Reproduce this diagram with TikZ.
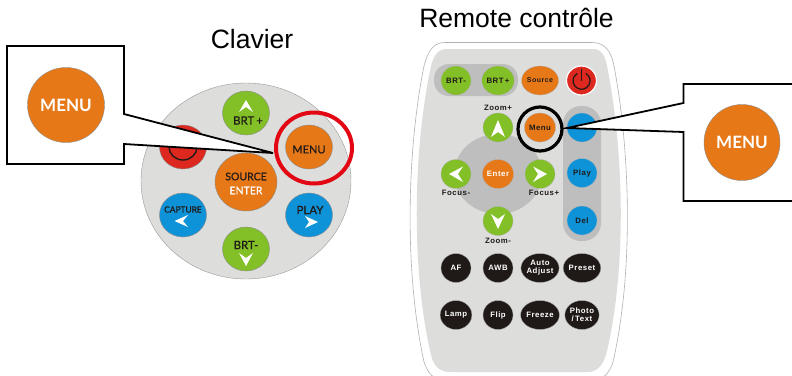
\documentclass[tikz,border=0pt]{standalone}
\usepackage{fontspec}
\setmainfont{Liberation Sans}
\newfontfamily\keyfont{Lato}[FakeBold=0.5]
\newfontfamily\bigkeyfont{Lato}
\newfontfamily\remfont{Liberation Sans}[LetterSpace=7]
\usetikzlibrary{shapes.geometric}
\definecolor{korange}{HTML}{E67817}
\definecolor{kgreen}{HTML}{83BF26}
\definecolor{kblue}{HTML}{0E93D9}
\definecolor{kred}{HTML}{DC281E}
\definecolor{kring}{HTML}{E30613}
\definecolor{kgray}{HTML}{DDDDDC}
\definecolor{kmid}{HTML}{BEBEBE}
\definecolor{kblack}{HTML}{1F1A17}
\tikzset{x=1pt,y=-1pt,
 title/.style={font=\fontsize{26.5}{30}\selectfont,inner sep=0},
 kb/.style={ellipse,draw=black!45,line width=.4pt,minimum width=47pt,minimum height=44pt,inner sep=0},
 rb/.style={ellipse,draw=white!70!black,line width=.3pt,minimum width=30pt,minimum height=29pt,inner sep=0,align=center,font=\remfont\bfseries\fontsize{7.8}{8.2}\selectfont,text=kblack},
 small/.style={font=\remfont\bfseries\fontsize{7.8}{9}\selectfont,inner sep=0,text=kblack},
 kt/.style={font=\keyfont\fontsize{10.5}{12}\selectfont,inner sep=0,text=kblack},
 wt/.style={kt,text=white},
 bigb/.style={ellipse,fill=korange,draw=black!45,line width=.4pt,inner sep=0,text=white,font=\bigkeyfont\bfseries\fontsize{17}{20}\selectfont},
 call/.style={draw=black,fill=white,line width=1.8pt,line join=miter}
}
\begin{document}
\begin{tikzpicture}
\useasboundingbox (0,0) rectangle (792,375);
\node[title] (tclav) at (252,39) {Clavier};
\node[title] (trem) at (516.500,18) {Remote contrôle};
% keyboard
\node[ellipse,draw=black!40,fill=kgray,line width=.4pt,minimum width=210pt,minimum height=196pt,inner sep=0] (pad) at (246,181) {};
\node[kb,fill=kgreen] (bp) at (246,113) {};
\node[kb,fill=korange] (kmenu) at (309,147) {};
\node[kb,fill=kred] (pw) at (183,147) {};
\draw[kblack,line width=1.4pt] (183,147) ellipse (14 and 13);
\node[kb,fill=korange,minimum width=62pt,minimum height=58pt] (src) at (246,182) {};
\node[kb,fill=kblue] (cap) at (183,215) {};
\node[kb,fill=kblue] (play) at (309,215) {};
\node[kb,fill=kgreen] (bm) at (246,249) {};
\node[kt,font=\keyfont\fontsize{11.5}{12}\selectfont] at (248,120.500) {BRT\,+};
\node[kt,font=\keyfont\fontsize{11}{12}\selectfont] at (309,149.500) {MENU};
\node[kt] at (246,176.500) {SOURCE};
\node[wt] at (246,190.500) {ENTER};
\node[kt,font=\keyfont\fontsize{8.4}{9}\selectfont] at (183,209.500) {CAPTURE};
\node[kt,font=\keyfont\fontsize{11.5}{12}\selectfont] at (310,210) {PLAY};
\node[kt,font=\keyfont\fontsize{11.5}{12}\selectfont] at (246,245) {BRT-};
\fill[white] (246,100)--(253,112)--(246,107)--(239,112)--cycle;
\fill[white] (246,266)--(239,253)--(246,258)--(253,253)--cycle;
\fill[white] (174.500,221)--(188,215)--(183,221)--(188,227)--cycle;
\fill[white] (318,222)--(305,216)--(309,222)--(305,228)--cycle;
\draw[kring,line width=4pt] (314,148) ellipse (38 and 35.500);
% remote
\path[fill=white,draw=black!30,line width=.6pt] (445,42.500)--(592,42.500) .. controls (604,42.500) and (611,50) .. (614,66) .. controls (630,150) and (634,270) .. (613,362) .. controls (609,374) and (603,380) .. (592,380)--(445,380) .. controls (434,380) and (428,374) .. (424,362) .. controls (404,270) and (407,150) .. (424,66) .. controls (428,50) and (434,42.500) .. (445,42.500)--cycle;
\path[fill=kgray] (447,49)--(593,49) .. controls (601,49) and (605,55) .. (607,66) .. controls (624,150) and (627,270) .. (606,355) .. controls (602,367) and (596,372) .. (588,372)--(450,372) .. controls (440,372) and (434,367) .. (431,355) .. controls (411,270) and (413,150) .. (431,66) .. controls (434,55) and (438,49) .. (447,49)--cycle;
\fill[kmid,rounded corners=15pt] (434,64) rectangle (518,96);
\fill[kmid,rounded corners=18pt] (563,106) rectangle (601,241);
\fill[kmid] (498,174) ellipse (44 and 40);
\node[rb,fill=kgreen] (r1) at (456,80.500) {BRT-};
\node[rb,fill=kgreen] (r2) at (498,80.500) {BRT\,+};
\node[rb,fill=korange,font=\remfont\bfseries\fontsize{7}{8}\selectfont] (r3) at (540,80.500) {Source};
\node[rb,fill=kred,draw=white,line width=1.2pt] (r4) at (581.500,80.500) {};
\draw[kblack,line width=1.2pt] (585.800,73.400) arc[start angle=-60,end angle=240,radius=8.500];
\draw[kblack,line width=1.2pt] (581.500,69)--(581.500,80.500);
\node[rb,fill=kgreen] (zp) at (498,127.500) {};
\node[rb,fill=korange] (rmenu) at (540,127.500) {Menu};
\node[rb,fill=kblue] (r8) at (582,127.500) {};
\node[rb,fill=kgreen] (fm) at (456,174) {};
\node[rb,fill=korange,text=white] (ent) at (498,174) {Enter};
\node[rb,fill=kgreen] (fp) at (540,174) {};
\node[rb,fill=kblue] (rplay) at (582,173) {Play};
\node[rb,fill=kgreen] (zm) at (498,221) {};
\node[rb,fill=kblue] (rdel) at (582,220.500) {Del};
\fill[white] (498,120)--(505,137)--(498,132)--(491,137)--cycle;
\fill[white] (498,229)--(505,214)--(498,219)--(491,214)--cycle;
\fill[white] (449,174)--(463,166.500)--(458,174)--(463,182)--cycle;
\fill[white] (547,174)--(533,166.500)--(538,174)--(533,182)--cycle;
\node[small] at (498,108) {Zoom+};
\node[small] at (456,193) {Focus-};
\node[small] at (544,193) {Focus+};
\node[small] at (498,240.500) {Zoom-};
\foreach \n/\x/\y/\t in {a/456/268/AF,b/498/268/AWB,c/540/268/{Auto\\Adjust},d/582/268/Preset,e/456/315/Lamp,f/498/315/Flip,g/540/315/Freeze,h/582/315/{Photo\\/\,Text}}
 \node[rb,fill=kblack,text=white] (k\n) at (\x,\y) {\t};
\draw[black,line width=3.2pt] (540,129) ellipse (22 and 22);
% callouts
\coordinate (tipl) at (273,153);
\coordinate (tipr) at (567,128);
\draw[call] (124,114)--(tipl)--(124,144)--(124,164)--(7,164)--(7,46)--(124,46)--cycle;
\draw[call] (683.500,103)--(tipr)--(683.500,132)--(683.500,201)--(800,201)--(800,84)--(683.500,84)--cycle;
\node[bigb,minimum width=77pt,minimum height=75pt] (bigl) at (66,105) {MENU};
\node[bigb,minimum width=76pt,minimum height=76pt] (bigr) at (742,142.500) {MENU};
\end{tikzpicture}
\end{document}
